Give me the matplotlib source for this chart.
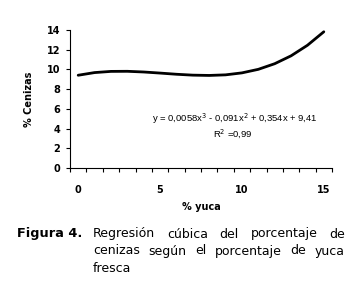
import matplotlib
matplotlib.use("Agg")
import matplotlib.pyplot as plt
import numpy as np

# values (% yuca vs % cenizas)
yuca = [0, 1, 2, 3, 4, 5, 6, 7, 8, 9, 10, 11, 12, 13, 14, 15]
cenizas = [9.41, 9.68, 9.80, 9.81, 9.74, 9.63, 9.51, 9.42, 9.39, 9.45,
           9.65, 10.01, 10.58, 11.38, 12.45, 13.82]
x_ticks = [0, 5, 10, 15]
y_ticks = [0, 2, 4, 6, 8, 10, 12, 14]
equation = "y = 0,0058x$^3$ - 0,091x$^2$ + 0,354x + 9,41"
r2_text = "R$^2$ =0,99"

W, H = 361, 289
fig = plt.figure(figsize=(W / 100, H / 100), dpi=100)
fig.patch.set_facecolor("white")

ax = fig.add_axes([70 / W, 1 - 168 / H, (332 - 70) / W, (168 - 30) / H])
ax.plot(yuca, cenizas, color="black", linewidth=2.0, solid_capstyle="round")

ax.set_xlim(-0.5, 15.5)
ax.set_ylim(0, 14)
ax.set_xticks(x_ticks)
ax.set_xticks(np.arange(-0.5, 15.6, 1), minor=True)
ax.set_yticks(y_ticks)

for s in ["top", "right"]:
    ax.spines[s].set_visible(False)
for s in ["left", "bottom"]:
    ax.spines[s].set_linewidth(0.8)

ax.tick_params(axis="x", which="major", length=0, pad=12)
ax.tick_params(axis="x", which="minor", length=3, width=0.8, direction="out")
ax.tick_params(axis="y", length=3, width=0.8, direction="out", pad=4)
for lbl in ax.get_xticklabels() + ax.get_yticklabels():
    lbl.set_fontsize(7)
    lbl.set_fontweight("bold")

ax.set_ylabel("% Cenizas", fontsize=7, fontweight="bold", labelpad=9)
fig.text(201 / W, 1 - 207 / H, "% yuca", fontsize=7, fontweight="bold",
         ha="center", va="center")

ax.text(235 / W, 1 - 119 / H, equation, transform=fig.transFigure,
        fontsize=6.8, family="Liberation Sans", ha="center", va="center")
ax.text(233 / W, 1 - 134 / H, r2_text, transform=fig.transFigure,
        fontsize=6.8, family="Liberation Sans", ha="center", va="center")

# caption, justified between x0 and x1 (pixels)
fig.text(17 / W, 1 - 234 / H, "Figura 4.", fontsize=9.3, fontweight="bold",
         ha="left", va="center")
caption = ["Regresión cúbica del porcentaje de",
           "cenizas según el porcentaje de yuca",
           "fresca"]
line_y = [234, 251, 269]
x0, x1 = 93, 345
renderer = fig.canvas.get_renderer()
for i, line in enumerate(caption):
    y = 1 - line_y[i] / H
    if i == len(caption) - 1:
        fig.text(x0 / W, y, line, fontsize=9.0, ha="left", va="center")
        continue
    words = line.split()
    texts = [fig.text(0, y, w, fontsize=9.0, ha="left", va="center") for w in words]
    widths = [t.get_window_extent(renderer).width for t in texts]
    gap = (x1 - x0 - sum(widths)) / (len(words) - 1)
    xpos = x0
    for t, w in zip(texts, widths):
        t.set_x(xpos / W)
        xpos += w + gap

fig.savefig("out.png", dpi=100)
